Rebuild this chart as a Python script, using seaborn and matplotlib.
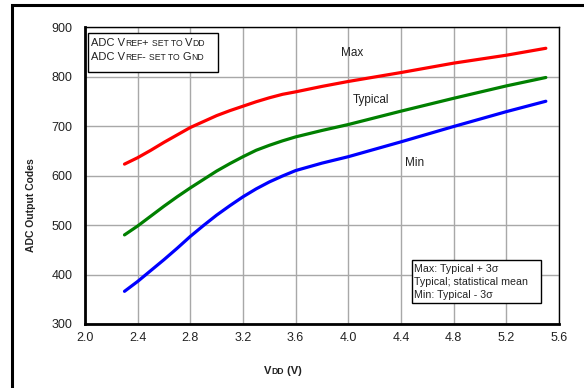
import matplotlib
matplotlib.use("Agg")
import matplotlib.pyplot as plt
import seaborn as sns
import pandas as pd
from matplotlib.patches import Rectangle
from matplotlib.offsetbox import TextArea, HPacker, VPacker, AnchoredOffsetbox

# values
vdd = [2.3, 2.4, 2.5, 2.6, 2.7, 2.8, 2.9, 3.0, 3.1, 3.2, 3.3, 3.4, 3.5, 3.6, 3.8,
       4.0, 4.4, 4.8, 5.2, 5.5]
max_codes = [623, 636, 651, 667, 682, 697, 709, 721, 731, 740, 749, 757, 764, 769, 780,
             790, 808, 827, 843, 857]
typ_codes = [480, 498, 518, 538, 557, 575, 592, 609, 624, 638, 651, 661, 670, 678, 691,
             703, 730, 756, 781, 798]
min_codes = [366, 386, 408, 430, 453, 477, 499, 520, 539, 557, 573, 587, 599, 610, 625,
             638, 668, 699, 729, 750]
colors = {"Max": "#ff0000", "Typical": "#008000", "Min": "#0000ff"}

n = len(vdd)
df = pd.DataFrame({
    "vdd": vdd * 3,
    "codes": max_codes + typ_codes + min_codes,
    "series": ["Max"] * n + ["Typical"] * n + ["Min"] * n,
})

sns.set_style("white")
plt.rcParams["font.family"] = ["Liberation Sans", "DejaVu Sans"]

W, H = 584, 388


def fx(px):
    return px / W


def fy(py):
    return 1 - py / H


fig = plt.figure(figsize=(5.84, 3.88), dpi=100)
ax = fig.add_axes([fx(85), fy(324), (559 - 85) / W, (324 - 27) / H])

sns.lineplot(data=df, x="vdd", y="codes", hue="series", palette=colors,
             linewidth=2.3, legend=False, ax=ax, zorder=3)

ax.set_xlim(2.0, 5.6)
ax.set_ylim(300, 900)
ax.set_xticks([2.0, 2.4, 2.8, 3.2, 3.6, 4.0, 4.4, 4.8, 5.2, 5.6])
ax.set_yticks([300, 400, 500, 600, 700, 800, 900])
ax.set_xticklabels(["2.0", "2.4", "2.8", "3.2", "3.6", "4.0", "4.4", "4.8", "5.2", "5.6"])
ax.tick_params(labelsize=9, length=0, colors="#222222")
ax.tick_params(axis="y", pad=9)
ax.tick_params(axis="x", pad=6)
ax.grid(True, color="#a8a8a8", linewidth=1.0)
ax.set_xlabel("")
ax.set_ylabel("")
for s in ["left", "bottom"]:
    ax.spines[s].set_linewidth(2.0)
    ax.spines[s].set_color("black")
for s in ["top", "right"]:
    ax.spines[s].set_linewidth(1.0)
    ax.spines[s].set_color("black")

ax.text(4.03, 847, "Max", fontsize=8.5, ha="center", va="center", color="#222222")
ax.text(4.17, 753, "Typical", fontsize=8.5, ha="center", va="center", color="#222222")
ax.text(4.5, 625, "Min", fontsize=8.5, ha="center", va="center", color="#222222")

fig.text(fx(31), fy(205), "ADC Output Codes", rotation=90, fontsize=7.5,
         fontweight="bold", ha="center", va="center", color="#222222")

# note box, top left
big = dict(fontsize=8, color="#222222")
small = dict(fontsize=6.2, color="#222222")


def sc_line(parts):
    boxes = [TextArea(t, textprops=big if b else small) for t, b in parts]
    return HPacker(children=boxes, align="baseline", pad=0, sep=0)


note1 = VPacker(children=[
    sc_line([("ADC V", True), ("REF", False), ("+ ", True), ("SET TO ", False), ("V", True), ("DD", False)]),
    sc_line([("ADC V", True), ("REF", False), ("- ", True), ("SET TO ", False), ("G", True), ("ND", False)]),
], align="left", pad=0, sep=2.5)
fig.add_artist(Rectangle((fx(88), fy(72)), (218 - 88) / W, (72 - 33) / H,
                         transform=fig.transFigure, facecolor="white",
                         edgecolor="black", linewidth=1.0, zorder=5))
ab1 = AnchoredOffsetbox(loc="upper left", child=note1, pad=0, borderpad=0,
                        frameon=False, bbox_to_anchor=(fx(91), fy(38.5)),
                        bbox_transform=fig.transFigure)
ab1.set_zorder(6)
fig.add_artist(ab1)

# note box, bottom right
tp = dict(fontsize=7.7, color="#222222")
note2 = VPacker(children=[
    TextArea("Max: Typical + 3σ", textprops=tp),
    TextArea("Typical; statistical mean", textprops=tp),
    TextArea("Min: Typical - 3σ", textprops=tp),
], align="left", pad=0, sep=2)
fig.add_artist(Rectangle((fx(412), fy(303)), (541 - 412) / W, (303 - 260) / H,
                         transform=fig.transFigure, facecolor="white",
                         edgecolor="black", linewidth=1.0, zorder=5))
ab2 = AnchoredOffsetbox(loc="upper left", child=note2, pad=0, borderpad=0,
                        frameon=False, bbox_to_anchor=(fx(414), fy(264.5)),
                        bbox_transform=fig.transFigure)
ab2.set_zorder(6)
fig.add_artist(ab2)

# x label with small caps
bold_big = dict(fontsize=8, fontweight="bold", color="#222222")
bold_small = dict(fontsize=6.2, fontweight="bold", color="#222222")
xlab = HPacker(children=[TextArea("V", textprops=bold_big), TextArea("DD", textprops=bold_small),
                         TextArea(" (V)", textprops=bold_big)], align="baseline", pad=0, sep=0)
ab3 = AnchoredOffsetbox(loc="center", child=xlab, pad=0, borderpad=0, frameon=False,
                        bbox_to_anchor=(fx(283), fy(371)),
                        bbox_transform=fig.transFigure)
fig.add_artist(ab3)

# outer frame
fig.add_artist(Rectangle((fx(12), -0.2), 1.2, 1.2 - 5 / H, transform=fig.transFigure,
                         fill=False, edgecolor="black", linewidth=2.2))

fig.savefig("out.png", dpi=100)
